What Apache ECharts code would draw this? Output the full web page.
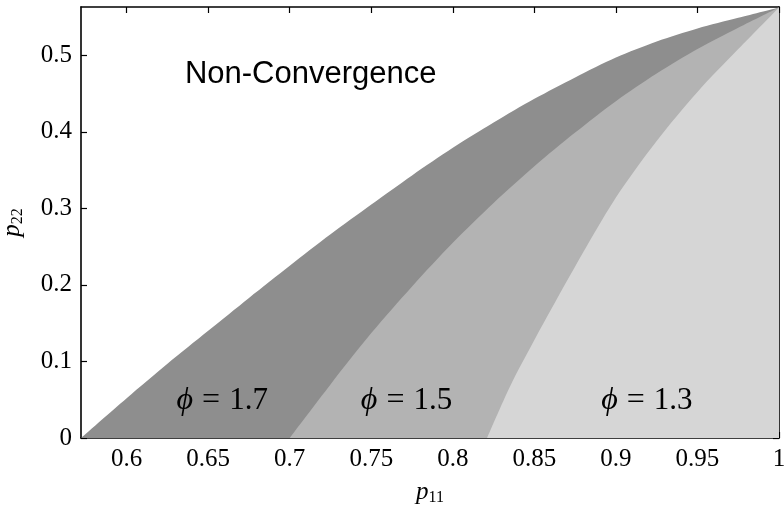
<!DOCTYPE html>
<html>
<head>
<meta charset="utf-8">
<script src="https://cdn.jsdelivr.net/npm/echarts@6/dist/echarts.min.js"></script>
<style>
html,body{margin:0;padding:0;background:#fff;}
#main{width:784px;height:509px;}
</style>
</head>
<body>
<div id="main"></div>
<script>
// Region boundaries (x = p11, y = p22)
var outerX = [0.572, 0.60, 0.625, 0.65, 0.675, 0.70, 0.725, 0.75, 0.775, 0.80, 0.825, 0.85, 0.875, 0.90, 0.925, 0.95, 0.975, 1.0];
var outerY = [0, 0.052, 0.097, 0.140, 0.183, 0.225, 0.266, 0.305, 0.343, 0.379, 0.412, 0.443, 0.471, 0.497, 0.518, 0.535, 0.549, 0.5625];
var midX = [0.70, 0.725, 0.75, 0.775, 0.80, 0.825, 0.85, 0.875, 0.90, 0.925, 0.95, 0.975, 1.0];
var midY = [0, 0.070, 0.137, 0.198, 0.255, 0.307, 0.355, 0.399, 0.440, 0.476, 0.508, 0.536, 0.5625];
var lightX = [0.821, 0.835, 0.85, 0.875, 0.90, 0.925, 0.95, 0.975, 1.0];
var lightY = [0, 0.067, 0.128, 0.224, 0.314, 0.388, 0.452, 0.508, 0.5625];

var xTicks = [0.6, 0.65, 0.7, 0.75, 0.8, 0.85, 0.9, 0.95, 1];
var yTicks = [0, 0.1, 0.2, 0.3, 0.4, 0.5];
var xRange = [0.572, 1];
var yRange = [0, 0.563];

var regionNames = ['Non-Convergence', '1.7', '1.5', '1.3'];
// label anchor points in data coordinates
var labelX = [0.6357, 0.6586, 0.7716, 0.919];
var labelY = [0.475, 0.049, 0.049, 0.049];

function pairs(xs, ys) { return xs.map(function (x, i) { return [x, ys[i]]; }); }

var chart = echarts.init(document.getElementById('main'), null, {renderer: 'canvas'});
var serif = '"Liberation Serif","DejaVu Serif",serif';
var axisCommon = {
  type: 'value',
  axisLine: {show: true, onZero: false, lineStyle: {color: '#000', width: 1.6}},
  splitLine: {show: false}
};
function areaSeries(xs, ys, color, z) {
  return {
    type: 'line', data: pairs(xs, ys), showSymbol: false, symbol: 'none',
    smooth: 0.3,
    lineStyle: {width: 0}, areaStyle: {color: color, opacity: 1}, z: z,
    silent: true, animation: false
  };
}

chart.setOption({
  animation: false,
  grid: {left: 81, right: 5, top: 7, bottom: 71, containLabel: false, outerBoundsMode: 'none'},
  xAxis: [
    Object.assign({}, axisCommon, {
      min: xRange[0], max: xRange[1], position: 'bottom',
      axisTick: {show: true, inside: true, length: 6, customValues: xTicks, lineStyle: {color: '#000', width: 1.2}},
      axisLabel: {show: true, customValues: xTicks, margin: 9, color: '#000', fontFamily: serif, fontSize: 25,
        formatter: function (v) { return String(+v.toFixed(2)); }},
      name: '{p|p}{s|11}', nameLocation: 'middle', nameGap: 40,
      nameTextStyle: {rich: {
        p: {fontFamily: serif, fontStyle: 'italic', fontSize: 25, color: '#000'},
        s: {fontFamily: serif, fontSize: 16, color: '#000', padding: [12, 0, 0, 0]}
      }}
    }),
    Object.assign({}, axisCommon, {
      min: xRange[0], max: xRange[1], position: 'top',
      axisTick: {show: true, inside: true, length: 6, customValues: xTicks, lineStyle: {color: '#000', width: 1.2}},
      axisLabel: {show: false}
    })
  ],
  yAxis: [
    Object.assign({}, axisCommon, {
      min: yRange[0], max: yRange[1], position: 'left',
      axisTick: {show: true, inside: true, length: 6, customValues: yTicks, lineStyle: {color: '#000', width: 1.2}},
      axisLabel: {show: true, customValues: yTicks, margin: 9, color: '#000', fontFamily: serif, fontSize: 25,
        formatter: function (v) { return String(+v.toFixed(1)); }},
      name: '{p|p}{s|22}', nameLocation: 'middle', nameGap: 55, nameRotate: 90,
      nameTextStyle: {rich: {
        p: {fontFamily: serif, fontStyle: 'italic', fontSize: 25, color: '#000'},
        s: {fontFamily: serif, fontSize: 16, color: '#000', padding: [12, 0, 0, 0]}
      }}
    }),
    Object.assign({}, axisCommon, {
      min: yRange[0], max: yRange[1], position: 'right',
      axisTick: {show: true, inside: true, length: 6, customValues: yTicks, lineStyle: {color: '#000', width: 1.2}},
      axisLabel: {show: false}
    })
  ],
  series: [
    areaSeries(outerX, outerY, '#8e8e8e', 1),
    areaSeries(midX, midY, '#b3b3b3', 2),
    areaSeries(lightX, lightY, '#d6d6d6', 3)
  ]
});

function px(i) { return chart.convertToPixel({gridIndex: 0}, [labelX[i], labelY[i]]); }
var gEls = [];
var p0 = px(0);
gEls.push({type: 'text', x: p0[0], y: p0[1], z: 10,
  style: {text: regionNames[0], font: '31px "Liberation Sans", Arial, sans-serif', fill: '#000', textVerticalAlign: 'middle'}});
for (var i = 1; i < 4; i++) {
  var p = px(i);
  gEls.push({type: 'text', x: p[0], y: p[1], z: 10,
    style: {
      text: '{i|ϕ}{e|=}{r|' + regionNames[i] + '}',
      rich: {
        i: {fontFamily: serif, fontStyle: 'italic', fontSize: 32, fill: '#000'},
        e: {fontFamily: serif, fontSize: 32, fill: '#000', padding: [0, 9, 0, 9]},
        r: {fontFamily: serif, fontSize: 31, fill: '#000'}
      },
      textAlign: 'center',
      textVerticalAlign: 'middle'
    }});
}
chart.setOption({graphic: {elements: gEls}});
</script>
</body>
</html>
